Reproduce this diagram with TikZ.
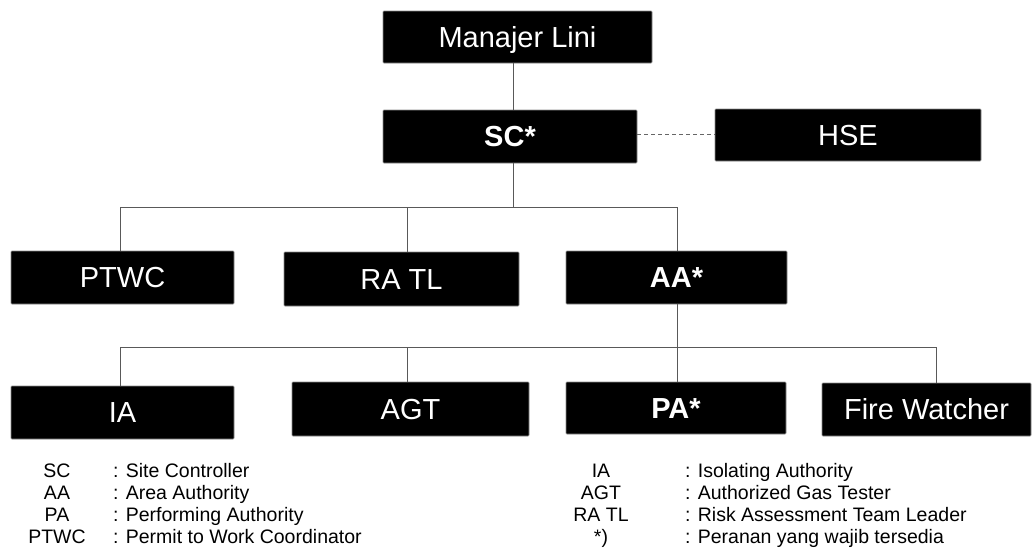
\documentclass[tikz,border=0pt]{standalone}
\usepackage{fontspec}
\setmainfont{Liberation Sans}
\begin{document}
\begin{tikzpicture}[x=1pt,y=-1pt,
  role/.style={fill=black, draw=black!45, line width=0.6pt, rounded corners=0.8pt,
    text=white, inner sep=0pt, font=\fontsize{29}{34}\selectfont,
    text height=20.8pt, text depth=0pt},
  conn/.style={draw=black!65, line width=0.9pt},
  link/.style={draw=black!60, line width=0.9pt, dash pattern=on 4pt off 3pt},
  abbr/.style={anchor=base, inner sep=0pt, font=\fontsize{19.5}{22}\selectfont},
  desc/.style={anchor=base west, inner sep=0pt, font=\fontsize{19.5}{22}\selectfont}]
\useasboundingbox (0,0) rectangle (1035,549);

% organisation boxes
\node[role, minimum width=269pt, minimum height=52pt] (ML)   at (517.5,37)   {Manajer Lini};
\node[role, minimum width=254pt, minimum height=53pt, font=\fontsize{29}{34}\selectfont\bfseries] (SC) at (510,136.5) {SC*};
\node[role, minimum width=266pt, minimum height=52pt] (HSE)  at (848,135)    {HSE};
\node[role, minimum width=223pt, minimum height=53pt] (PTWC) at (122.5,277.5) {PTWC};
\node[role, minimum width=235pt, minimum height=54pt] (RATL) at (401.5,279)  {RA TL};
\node[role, minimum width=221pt, minimum height=53pt, font=\fontsize{29}{34}\selectfont\bfseries] (AA) at (676.5,277.5) {AA*};
\node[role, minimum width=223pt, minimum height=53pt] (IA)   at (122.5,412.5) {IA};
\node[role, minimum width=237pt, minimum height=54pt] (AGT)  at (410.5,409)  {AGT};
\node[role, minimum width=220pt, minimum height=52pt, font=\fontsize{29}{34}\selectfont\bfseries] (PA) at (676,408) {PA*};
\node[role, minimum width=209pt, minimum height=53pt] (FW)   at (926.5,409.5) {Fire Watcher};

% reporting lines
\draw[conn] ([xshift=-4.5pt]ML.south) -- ([xshift=3pt]SC.north);
\draw[conn] ([xshift=3pt]SC.south) -- ++(0,44) coordinate (busA);
\draw[conn] ([xshift=-2.5pt]PTWC.north) |- ([xshift=0.5pt]AA.north |- busA) -- ([xshift=0.5pt]AA.north);
\draw[conn] ([xshift=5.5pt]RATL.north) -- ([xshift=5.5pt]RATL.north |- busA);
\draw[conn] ([xshift=0.5pt]AA.south) -- ++(0,43) coordinate (busB);
\draw[conn] ([xshift=-2.5pt]IA.north) |- ([xshift=9.5pt]FW.north |- busB) -- ([xshift=9.5pt]FW.north);
\draw[conn] ([xshift=-3.5pt]AGT.north) -- ([xshift=-3.5pt]AGT.north |- busB);
\draw[conn] ([xshift=1pt]PA.north) -- ([xshift=1pt]PA.north |- busB);

% coordination with HSE
\coordinate (hseLink) at ([yshift=2.5pt]SC.east);
\draw[link] (hseLink) -- (HSE.west |- hseLink);

% legend
\node[abbr] (lSC)   at (57,477) {SC};
\node[abbr] (lAA)   at (57,499) {AA};
\node[abbr] (lPA)   at (57,521) {PA};
\node[abbr] (lPTWC) at (57,543) {PTWC};
\node[desc] (dSC)   at (113,477) {: Site Controller};
\node[desc] (dAA)   at (113,499) {: Area Authority};
\node[desc] (dPA)   at (113,521) {: Performing Authority};
\node[desc] (dPTWC) at (113,543) {: Permit to Work Coordinator};

\node[abbr] (lIA)   at (601,477) {IA};
\node[abbr] (lAGT)  at (601,499) {AGT};
\node[abbr] (lRATL) at (601,521) {RA TL};
\node[abbr] (lStar) at (601,543) {*)};
\node[desc] (dIA)   at (685,477) {: Isolating Authority};
\node[desc] (dAGT)  at (685,499) {: Authorized Gas Tester};
\node[desc] (dRATL) at (685,521) {: Risk Assessment Team Leader};
\node[desc] (dStar) at (685,543) {: Peranan yang wajib tersedia};
\end{tikzpicture}
\end{document}
